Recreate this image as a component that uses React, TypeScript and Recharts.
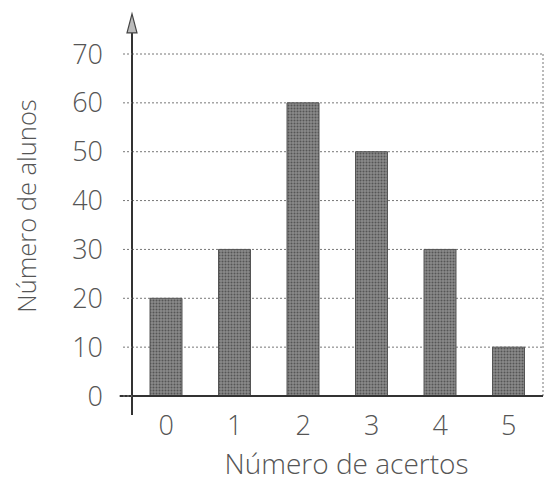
import { BarChart, Bar, XAxis, YAxis, CartesianGrid, ReferenceLine, Label } from "recharts";

const acertos = [0, 1, 2, 3, 4, 5];
const alunos = [20, 30, 60, 50, 30, 10];
const yTicks = [0, 10, 20, 30, 40, 50, 60, 70];

const data = acertos.map((a, i) => ({ acertos: a, alunos: alunos[i] }));

const FONT = "'Open Sans', 'Noto Sans', sans-serif";
const TEXT = "#555";

// y axis line with the open arrow head on top
const ArrowAxis = (props: any) => {
  const { x1, y1, x2, y2 } = props;
  const top = Math.min(y1, y2);
  const bottom = Math.max(y1, y2);
  return (
    <g>
      <line x1={x1} y1={bottom} x2={x2} y2={top + 10} stroke="#333" strokeWidth={2} />
      <polygon
        points={`${x1},${top} ${x1 - 5},${top + 19} ${x1 + 5},${top + 19}`}
        fill="#bbb"
        stroke="#444"
        strokeWidth={1.2}
      />
    </g>
  );
};

const YTitle = (props: any) => {
  const { viewBox } = props;
  const cx = viewBox.x + viewBox.width - 106;
  const cy = viewBox.y + viewBox.height / 2 - 19;
  return (
    <text
      x={cx}
      y={cy}
      transform={`rotate(-90, ${cx}, ${cy})`}
      textAnchor="middle"
      dominantBaseline="central"
      fontFamily={FONT}
      fontWeight={300}
      fontSize={25.5}
      fill={TEXT}
    >
      Número de alunos
    </text>
  );
};

const XTitle = (props: any) => {
  const { viewBox } = props;
  const cx = viewBox.x + viewBox.width / 2 + 9;
  const cy = viewBox.y + 78;
  return (
    <text x={cx} y={cy} textAnchor="middle" fontFamily={FONT} fontWeight={300} fontSize={28} fill={TEXT}>
      Número de acertos
    </text>
  );
};

const App = () => {
  return (
    <div style={{ width: 551, height: 477, background: "#fff" }}>
      <BarChart width={551} height={477} data={data} margin={{ top: 46, right: 16, bottom: 29, left: 24 }}>
        <defs>
          <pattern id="halftone" width="3" height="3" patternUnits="userSpaceOnUse">
            <rect width="3" height="3" fill="#8a8a8a" />
            <circle cx="1.5" cy="1.5" r="1" fill="#555" />
          </pattern>
        </defs>
        <CartesianGrid vertical={false} stroke="#777" strokeDasharray="2 2" />
        <XAxis
          dataKey="acertos"
          type="number"
          domain={[-0.5, 5.5]}
          ticks={acertos}
          height={60}
          axisLine={false}
          tickLine={false}
          tickSize={0}
          tickMargin={20}
          tick={{ fontFamily: FONT, fontWeight: 300, fontSize: 27, fill: TEXT }}
        >
          <Label content={<XTitle />} />
        </XAxis>
        <YAxis
          domain={[0, 70]}
          ticks={yTicks}
          width={100}
          axisLine={false}
          tickLine={{ stroke: "#777", strokeDasharray: "2 2" }}
          tickSize={9}
          tickMargin={20}
          tick={{ fontFamily: FONT, fontWeight: 300, fontSize: 27, fill: TEXT }}
        >
          <Label content={<YTitle />} />
        </YAxis>
        <ReferenceLine x={5.5} stroke="#777" strokeDasharray="2 2" ifOverflow="visible" />
        <Bar
          dataKey="alunos"
          barSize={32}
          fill="url(#halftone)"
          stroke="#555"
          strokeWidth={1}
          isAnimationActive={false}
        />
        <ReferenceLine
          segment={[{ x: -0.68, y: 0 }, { x: 5.5, y: 0 }]}
          stroke="#333"
          strokeWidth={2}
          ifOverflow="visible"
        />
        <ReferenceLine
          segment={[{ x: -0.5, y: -3.9 }, { x: -0.5, y: 78.2 }]}
          ifOverflow="visible"
          shape={<ArrowAxis />}
        />
      </BarChart>
    </div>
  );
};

export default App;
